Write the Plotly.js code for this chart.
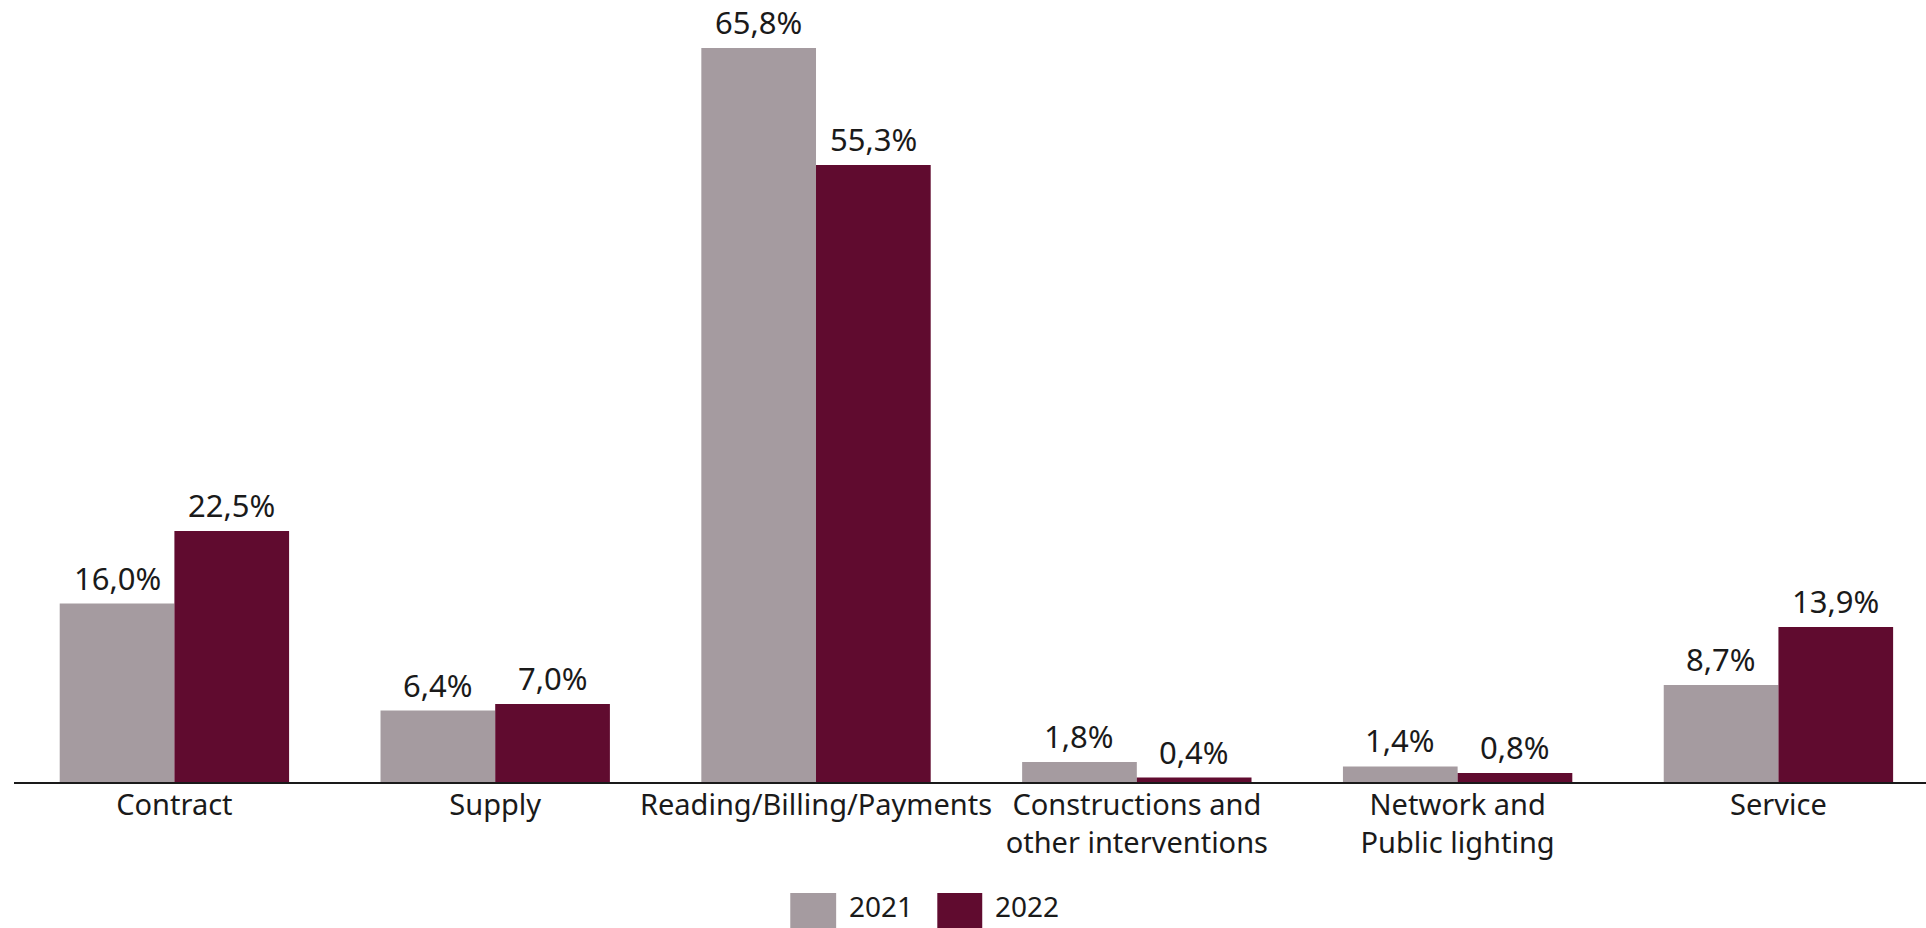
<!DOCTYPE html>
<html>
<head>
<meta charset="utf-8">
<script src="https://cdn.plot.ly/plotly-3.0.1.min.js"></script>
<style>html,body{margin:0;padding:0;background:#fff;}#chart{width:1926px;height:928px;}</style>
</head>
<body>
<div id="chart"></div>
<script>
const categories = ["Contract", "Supply", "Reading/Billing/Payments", "Constructions and<br>other interventions", "Network and<br>Public lighting", "Service"];
const seriesNames = ["2021", "2022"];
const values2021 = [16.0, 6.4, 65.8, 1.8, 1.4, 8.7];
const values2022 = [22.5, 7.0, 55.3, 0.4, 0.8, 13.9];
const colors = ["#a59ba0", "#600b2f"];

const FONT = "'Noto Sans', sans-serif";
const TEXT_COLOR = "#1a1a1a";
const bargap = 0.285;
const half = (1 - bargap) / 4;

const traces = [values2021, values2022].map((vals, i) => ({
  type: "bar",
  name: seriesNames[i],
  x: categories,
  y: vals,
  marker: {color: colors[i]},
  hoverinfo: "none",
  showlegend: false
}));

const fmt = v => v.toFixed(1).replace(".", ",") + "%";
const annotations = [];
[values2021, values2022].forEach((vals, s) => {
  vals.forEach((v, i) => {
    annotations.push({
      xref: "x", yref: "y",
      x: i + (s === 0 ? -half : half),
      y: v,
      text: fmt(v),
      showarrow: false,
      yanchor: "bottom",
      xanchor: "center",
      yshift: 3,
      font: {family: FONT, size: 31, color: TEXT_COLOR}
    });
  });
});

// legend (manual, large swatches)
const legendX = [[0.406, 0.430, 0.4358], [0.4829, 0.5064, 0.5121]];
const shapes = [];
legendX.forEach((lx, i) => {
  shapes.push({type: "rect", xref: "paper", yref: "paper", x0: lx[0], x1: lx[1], y0: -0.1463, y1: -0.22, line: {width: 0}, fillcolor: colors[i]});
  annotations.push({xref: "paper", yref: "paper", x: lx[2], y: -0.164, xanchor: "left", yanchor: "middle", text: seriesNames[i], showarrow: false, font: {family: FONT, size: 28, color: TEXT_COLOR}});
});

const layout = {
  width: 1926, height: 928,
  margin: {l: 14, r: 0, t: 24, b: 146, pad: 0},
  paper_bgcolor: "#fff", plot_bgcolor: "#fff",
  font: {family: FONT, color: TEXT_COLOR, size: 28},
  barmode: "group",
  bargap: bargap,
  bargroupgap: 0,
  showlegend: false,
  xaxis: {
    type: "category",
    range: [-0.5, 5.46],
    showline: true, linecolor: TEXT_COLOR, linewidth: 2,
    ticks: "", showgrid: false, zeroline: false,
    ticklabelstandoff: -4,
    tickfont: {family: FONT, size: 29, color: TEXT_COLOR},
    automargin: false
  },
  yaxis: {
    range: [0, 67.95],
    visible: false, showgrid: false, zeroline: false
  },
  annotations: annotations,
  shapes: shapes
};

Plotly.newPlot("chart", traces, layout, {displayModeBar: false, staticPlot: true});
</script>
</body>
</html>
